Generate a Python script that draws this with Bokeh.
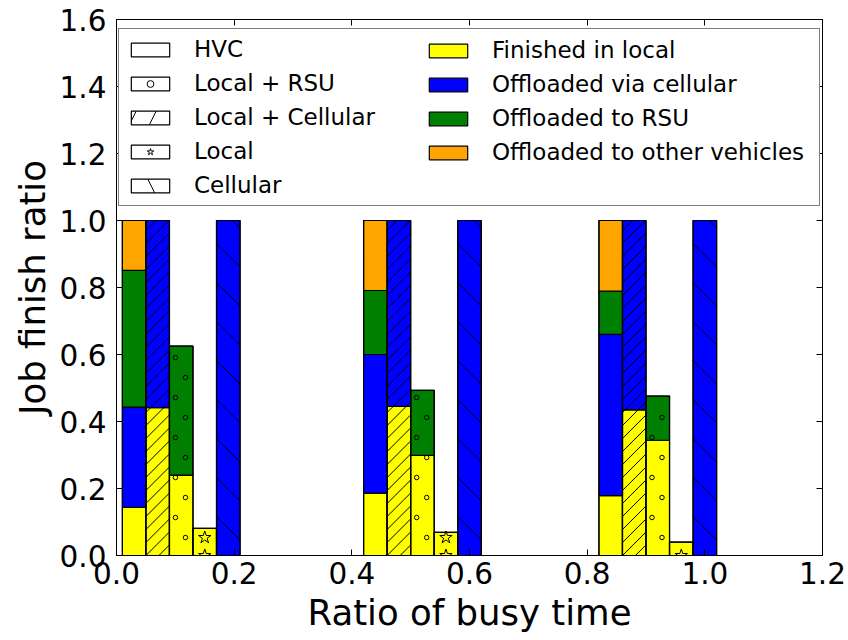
from bokeh.plotting import figure
from bokeh.models import (Range1d, LinearAxis, Legend, LegendItem, FixedTicker,
                          NumeralTickFormatter, CustomJSTickFormatter)
from bokeh.embed import file_html
from bokeh.resources import INLINE

# ---- data -------------------------------------------------------------
# left edge of the first bar in each busy-time group, and bar width
group_left = [0.01, 0.42, 0.82]
bar_width = 0.04

# schemes, drawn left to right inside each group
schemes = ["HVC", "Local + Cellular", "Local + RSU", "Local", "Cellular"]
# order of the schemes in the legend
legend_schemes = ["HVC", "Local + RSU", "Local + Cellular", "Local", "Cellular"]

# share of jobs by where they finished, one value per group
finished_local = {
    "HVC": [0.144, 0.186, 0.179],
    "Local + Cellular": [0.441, 0.445, 0.435],
    "Local + RSU": [0.240, 0.299, 0.344],
    "Local": [0.081, 0.069, 0.040],
    "Cellular": [0.0, 0.0, 0.0],
}
via_cellular = {
    "HVC": [0.299, 0.414, 0.481],
    "Local + Cellular": [0.559, 0.555, 0.565],
    "Local + RSU": [0.0, 0.0, 0.0],
    "Local": [0.0, 0.0, 0.0],
    "Cellular": [1.0, 1.0, 1.0],
}
to_rsu = {
    "HVC": [0.408, 0.191, 0.129],
    "Local + Cellular": [0.0, 0.0, 0.0],
    "Local + RSU": [0.385, 0.194, 0.132],
    "Local": [0.0, 0.0, 0.0],
    "Cellular": [0.0, 0.0, 0.0],
}
to_vehicles = {
    "HVC": [0.149, 0.209, 0.211],
    "Local + Cellular": [0.0, 0.0, 0.0],
    "Local + RSU": [0.0, 0.0, 0.0],
    "Local": [0.0, 0.0, 0.0],
    "Cellular": [0.0, 0.0, 0.0],
}

x_ticks = [0.0, 0.2, 0.4, 0.6, 0.8, 1.0, 1.2]
y_ticks = [0.0, 0.2, 0.4, 0.6, 0.8, 1.0, 1.2, 1.4, 1.6]

components = [
    ("Finished in local", finished_local, "#ffff00"),
    ("Offloaded via cellular", via_cellular, "#0000ff"),
    ("Offloaded to RSU", to_rsu, "#008000"),
    ("Offloaded to other vehicles", to_vehicles, "#ffa500"),
]

FONT = "DejaVu Sans"
X_MAX, Y_MAX = 1.2, 1.6
FRAME_W, FRAME_H = 706, 536
DX = X_MAX / FRAME_W   # data units per pixel, x
DY = Y_MAX / FRAME_H   # data units per pixel, y

# ---- figure -----------------------------------------------------------
p = figure(width=848, height=640,
           x_range=Range1d(0, X_MAX), y_range=Range1d(0, Y_MAX),
           output_backend="svg", toolbar_location=None,
           min_border_left=116, min_border_right=26,
           min_border_top=19, min_border_bottom=85)
p.xgrid.visible = False
p.ygrid.visible = False
p.outline_line_color = "black"
p.outline_line_width = 1
p.background_fill_color = "white"
p.border_fill_color = "white"


def bar_lefts(scheme):
    k = schemes.index(scheme)
    return [g + k * bar_width for g in group_left]


# stacked coloured segments, one renderer per destination
bottoms = {s: [0.0] * len(group_left) for s in schemes}
comp_renderers = {}
for name, table, color in components:
    left, right, bottom, top = [], [], [], []
    for s in schemes:
        xs = bar_lefts(s)
        for i, v in enumerate(table[s]):
            if v > 0:
                left.append(xs[i])
                right.append(xs[i] + bar_width)
                bottom.append(bottoms[s][i])
                top.append(bottoms[s][i] + v)
            bottoms[s][i] += v
    comp_renderers[name] = p.quad(left=left, right=right, bottom=bottom, top=top,
                                  fill_color=color, line_color="black",
                                  line_width=1.2)


# 45-degree hatch lines clipped to a bar
def hatch_lines(x0, top, spacing_px, slope):
    w = bar_width
    rise = slope * (w / DX) * DY
    step = spacing_px * DY
    xs0, ys0, xs1, ys1 = [], [], [], []
    k = -int(abs(rise) / step) - 1
    while k * step - abs(rise) <= top:
        ya = k * step
        yb = ya + rise
        ts = [0.0, 1.0]
        for bound in (0.0, top):
            if (ya - bound) * (yb - bound) < 0:
                ts.append((bound - ya) / (yb - ya))
        ts.sort()
        inside = [t for t in ts
                  if -1e-9 <= ya + t * (yb - ya) <= top + 1e-9]
        if len(inside) >= 2 and inside[-1] - inside[0] > 1e-6:
            ta, tb = inside[0], inside[-1]
            xs0.append(x0 + ta * w)
            ys0.append(ya + ta * (yb - ya))
            xs1.append(x0 + tb * w)
            ys1.append(ya + tb * (yb - ya))
        k += 1
    return xs0, ys0, xs1, ys1


hatch_spec = {"Local + Cellular": (13, 1.0), "Cellular": (39, -1.0)}
for s, (spacing, slope) in hatch_spec.items():
    X0, Y0, X1, Y1 = [], [], [], []
    for x, h in zip(bar_lefts(s), bottoms[s]):
        a, b, c, d = hatch_lines(x, h, spacing, slope)
        X0 += a
        Y0 += b
        X1 += c
        Y1 += d
    p.segment(x0=X0, y0=Y0, x1=X1, y1=Y1, line_color="black", line_width=1)

# outline of each full bar
for s in schemes:
    xs = bar_lefts(s)
    p.quad(left=xs, right=[x + bar_width for x in xs],
           bottom=[0.0] * len(xs), top=bottoms[s],
           fill_color=None, line_color="black", line_width=1.2)

# small-circle texture for local + RSU
ring_x, ring_y = [], []
for x, h in zip(bar_lefts("Local + RSU"), bottoms["Local + RSU"]):
    k = 0
    while (18 + 20 * k) * DY <= h - 0.01:
        off = 16 if k % 2 == 0 else 6
        ring_x.append(x + off * DX)
        ring_y.append((18 + 20 * k) * DY)
        k += 1
rings = p.scatter(ring_x, ring_y, marker="circle", size=4.5, fill_color=None,
                  line_color="black", line_width=1)

# star texture for the local-only scheme
star_x, star_y = [], []
for x, h in zip(bar_lefts("Local"), bottoms["Local"]):
    for row_px in (0, 18):
        if h - row_px * DY >= 0.012:
            star_x.append(x + bar_width / 2)
            star_y.append(row_px * DY)
stars = p.scatter(star_x, star_y, marker="star", size=13, fill_color=None,
                  line_color="black", line_width=1)

# legend swatches for the schemes (hidden renderers, used by the legend only)
swatch = {}
swatch_hatch = {"Local + Cellular": ("right_diagonal_line", 40),
                "Cellular": ("left_diagonal_line", 80)}
for s in legend_schemes:
    xs = bar_lefts(s)
    kw = dict(fill_color="white", line_color="black", line_width=1.2)
    if s in swatch_hatch:
        pat, sc = swatch_hatch[s]
        kw.update(hatch_pattern=pat, hatch_scale=sc, hatch_color="black",
                  hatch_weight=1)
    swatch[s] = p.quad(left=xs, right=[x + bar_width for x in xs],
                       bottom=[0.0] * len(xs), top=bottoms[s],
                       visible=False, **kw)

# ---- axes -------------------------------------------------------------
fmt = NumeralTickFormatter(format="0.0")
for ax, ticks in ((p.xaxis[0], x_ticks), (p.yaxis[0], y_ticks)):
    ax.ticker = FixedTicker(ticks=ticks)
    ax.formatter = fmt
    ax.major_tick_in = 6
    ax.major_tick_out = 0
    ax.minor_tick_in = 0
    ax.minor_tick_out = 0
    ax.axis_line_color = "black"
    ax.major_tick_line_color = "black"
    ax.major_label_text_font = FONT
    ax.major_label_text_font_size = "29.5px"
    ax.major_label_text_color = "black"
    ax.axis_label_text_font = FONT
    ax.axis_label_text_font_size = "35.5px"
    ax.axis_label_text_font_style = "normal"
    ax.axis_label_text_color = "black"

p.xaxis.axis_label = "Ratio of busy time"
p.yaxis.axis_label = "Job finish ratio"
p.xaxis.major_label_standoff = 6
p.xaxis.axis_label_standoff = 5
p.yaxis.major_label_standoff = 10
p.yaxis.axis_label_standoff = 4

blank = CustomJSTickFormatter(code="return ''")
for loc, ticks in (("above", x_ticks), ("right", y_ticks)):
    ax = LinearAxis(ticker=FixedTicker(ticks=ticks), formatter=blank,
                    major_tick_in=6, major_tick_out=0,
                    minor_tick_in=0, minor_tick_out=0,
                    major_label_standoff=0,
                    major_label_text_font_size="1px",
                    axis_line_color="black")
    p.add_layout(ax, loc)

# ---- legends ----------------------------------------------------------
legend_kw = dict(label_text_font=FONT, label_text_font_size="23px",
                 label_text_color="black",
                 glyph_width=48, glyph_height=17, label_standoff=20,
                 padding=7, spacing=8, margin=0, label_height=26,
                 inactive_fill_alpha=0)

left_items = []
for s in legend_schemes:
    rs = [swatch[s]]
    if s == "Local":
        rs.append(stars)
    if s == "Local + RSU":
        rs.append(rings)
    left_items.append(LegendItem(label=s, renderers=rs))
right_items = [LegendItem(label=name, renderers=[comp_renderers[name]])
               for name, _, _ in components]

legend_left = Legend(items=left_items, location=(2, 349), label_width=618,
                     border_line_color="black", border_line_width=1,
                     background_fill_color="white", background_fill_alpha=1,
                     **legend_kw)
legend_right = Legend(items=right_items, location=(301, 383),
                      border_line_alpha=0, background_fill_alpha=0,
                      **legend_kw)
p.add_layout(legend_left)
p.add_layout(legend_right)

open("out.html", "w").write(file_html(p, INLINE))
